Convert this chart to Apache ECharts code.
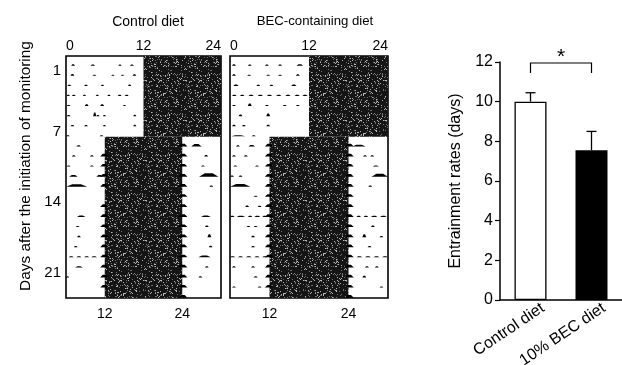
<!DOCTYPE html>
<html>
<head>
<meta charset="utf-8">
<script src="https://cdn.jsdelivr.net/npm/echarts@6/dist/echarts.min.js"></script>
<style>
  html, body { margin: 0; padding: 0; background: #fff; }
  #chart { width: 622px; height: 365px; }
</style>
</head>
<body>
<div id="chart"></div>
<script>
// actogram rows (day index, top to bottom)
const rows = ['0','1','2','3','4','5','6','7','8','9','10','11','12','13','14','15','16','17','18','19','20','21','22','23'];
const dayTicks = [1, 7, 14, 21];
const topTicks = [0, 12, 24];
const bottomTicks = [12, 24];

// dark phase blocks: [startHour, endHour, firstRow, lastRow]
const controlDark = [[12, 24, 0, 7], [6, 18, 8, 23]];
const becDark = [[12, 24, 0, 7], [6, 18, 8, 23]];

// activity marks: [startHour, endHour, row, height (part of row)]
const controlMarks = [
  [0.8,1.4,0,0.25],[3.8,4.5,0,0.2],[8.1,8.6,0,0.2],[9.9,10.5,0,0.2],
  [0.7,1.3,1,0.3],[4.1,4.7,1,0.2],[7.0,7.5,1,0.2],[8.5,9.0,1,0.2],[10.3,10.9,1,0.25],
  [0.2,0.8,2,0.2],[2.8,3.4,2,0.2],[5.4,5.9,2,0.2],[9.6,10.1,2,0.25],
  [0.1,0.6,3,0.15],[0.9,1.5,3,0.15],[2.6,3.1,3,0.15],[4.6,5.1,3,0.15],[6.4,6.9,3,0.15],[8.0,8.6,3,0.15],[9.1,9.7,3,0.15],
  [0.1,0.7,4,0.2],[2.9,3.5,4,0.3],[5.3,5.9,4,0.3],[8.8,9.3,4,0.2],
  [0.1,0.7,5,0.2],[4.2,4.7,5,0.6],[4.7,5.2,5,0.2],[5.7,6.2,5,0.2],[10.4,10.9,5,0.25],
  [0.7,1.3,6,0.2],[2.8,3.4,6,0.2],[5.7,6.2,6,0.2],[10.4,10.9,6,0.25],
  [0.0,0.6,7,0.2],[5.2,5.8,7,0.2],
  [1.6,2.3,8,0.2],[19.4,21.0,8,0.4],
  [0.9,1.5,9,0.2],[3.7,4.3,9,0.2],[21.4,22.0,9,0.25],
  [0.1,0.7,10,0.2],[3.7,4.3,10,0.2],[20.9,21.5,10,0.2],
  [0.5,1.8,11,0.3],[4.7,5.7,11,0.3],[20.6,23.6,11,0.55],
  [0.0,3.3,12,0.4],[22.2,22.8,12,0.2],
  [1.7,3.0,15,0.25],[20.9,22.4,15,0.25],
  [1.5,2.1,16,0.2],[21.5,22.1,16,0.25],
  [1.7,2.3,17,0.25],[21.9,22.5,17,0.5],
  [1.2,1.8,18,0.2],[22.1,22.7,18,0.25],
  [0.4,1.2,19,0.15],[1.6,2.4,19,0.15],[2.8,3.6,19,0.15],[3.9,4.8,19,0.15],[20.5,22.4,19,0.3],
  [1.4,2.6,20,0.2],[21.5,22.1,20,0.2],
  [0.0,0.5,21,0.2],[20.5,21.1,21,0.2]
];
const becMarks = [
  [0.3,0.9,0,0.25],[2.7,3.3,0,0.2],[5.3,5.9,0,0.2],[7.3,7.9,0,0.2],[10.1,11.1,0,0.25],
  [0.3,0.9,1,0.25],[2.6,3.2,1,0.2],[5.5,6.1,1,0.2],[7.3,7.9,1,0.2],[10.0,10.6,1,0.25],
  [0.5,1.3,2,0.25],[4.0,4.6,2,0.2],[6.0,6.6,2,0.2],[9.3,10.1,2,0.25],
  [0.3,1.0,3,0.12],[1.5,2.2,3,0.12],[2.8,3.6,3,0.12],[4.2,5.0,3,0.12],[5.6,6.4,3,0.12],[7.0,7.8,3,0.12],[8.4,9.2,3,0.12],[9.8,10.6,3,0.12],[11.0,11.8,3,0.12],
  [0.3,0.9,4,0.2],[2.7,3.3,4,0.45],[5.3,5.9,4,0.2],[8.0,8.6,4,0.2],[10.0,10.6,4,0.2],
  [1.3,1.9,5,0.3],[5.5,6.1,5,0.45],
  [0.3,0.9,6,0.25],[1.8,2.4,6,0.2],[5.5,6.1,6,0.25],
  [0.2,2.3,7,0.15],[3.3,3.9,7,0.2],
  [0.9,1.5,8,0.2],[2.8,3.8,8,0.25],[18.6,20.6,8,0.3],
  [0.3,0.9,9,0.2],[2.1,2.7,9,0.2],[20.2,20.8,9,0.2],[21.3,21.9,9,0.2],
  [0.5,1.1,10,0.2],[3.8,4.4,10,0.2],[21.7,22.6,10,0.2],
  [0.0,0.6,11,0.2],[1.3,1.9,11,0.2],[21.5,24.0,11,0.5],
  [0.0,3.1,12,0.45],[21.0,21.6,12,0.2],
  [3.6,4.2,13,0.2],
  [2.3,2.9,14,0.25],[4.2,4.8,14,0.2],
  [0.0,0.7,15,0.12],[1.0,2.3,15,0.15],[2.7,3.4,15,0.12],[3.7,4.6,15,0.15],[4.9,5.6,15,0.12],[19.2,19.9,15,0.12],[20.3,21.0,15,0.12],[21.4,22.4,15,0.15],[22.8,23.8,15,0.12],
  [2.5,3.1,16,0.2],[3.6,4.2,16,0.2],[21.4,22.0,16,0.25],
  [3.2,3.8,17,0.25],[20.1,20.7,17,0.5],[22.7,23.3,17,0.2],
  [3.2,3.8,18,0.2],[20.9,21.5,18,0.2],
  [0.0,0.8,19,0.15],[1.2,2.0,19,0.15],[2.4,3.3,19,0.15],[3.7,4.5,19,0.15],[4.9,5.6,19,0.15],[19.2,20.1,19,0.15],[20.5,21.4,19,0.15],[21.8,22.7,19,0.15],[23.1,24.0,19,0.15],
  [0.3,0.9,20,0.2],[3.2,3.8,20,0.2],[20.5,21.1,20,0.2],[22.0,22.6,20,0.2],
  [3.6,4.2,21,0.2],[20.1,20.7,21,0.3],
  [0.3,0.9,22,0.2],[4.2,4.8,22,0.2],[22.7,23.3,22,0.2]
];
// rows with activity spikes at the dark edges (lights-off / lights-on)
const controlOnsetRows = [9, 10, 11, 12, 14, 15, 16, 17, 18, 19, 20, 21, 22];
const controlOffsetRows = [8, 9, 10, 11, 12, 13, 14, 15, 16, 17, 18, 19, 20, 21, 22, 23];
const becOnsetRows = [8, 9, 10, 11, 12, 13, 14, 15, 16, 17, 18, 19, 20, 21, 22];
const becOffsetRows = [8, 9, 10, 11, 12, 13, 14, 15, 16, 17, 18, 19, 20, 21, 22, 23];

// bar chart
const dietCats = ['Control diet', '10% BEC diet'];
const entrainMeans = [10.0, 7.55];
const entrainUpper = [10.45, 8.5];
const sigPair = [0, 1];

var chart = echarts.init(document.getElementById('chart'));

// speckled texture for the dark phase (fixed hash, just a look)
const tex = document.createElement('canvas');
tex.width = 40; tex.height = 40;
const g = tex.getContext('2d');
g.fillStyle = '#151515';
g.fillRect(0, 0, 40, 40);
for (let i = 0; i < 40; i++) {
  for (let j = 0; j < 40; j++) {
    let h = (Math.imul(i, 374761393) + Math.imul(j, 668265263)) >>> 0;
    h = Math.imul(h ^ (h >>> 13), 1274126177) >>> 0;
    const k = (h >>> 16) % 100;
    if (k < 14) { g.fillStyle = k < 6 ? '#b8b8b8' : '#707070'; g.fillRect(i, j, 1, 1); }
  }
}
const stipple = { image: tex, repeat: 'repeat' };
const markScale = 0.6;

function renderBlock(params, api) {
  const rowH = api.size([0, 1])[1];
  const p0 = api.coord([api.value(0), api.value(2)]);
  const p1 = api.coord([api.value(1), api.value(3)]);
  return {
    type: 'rect',
    shape: { x: p0[0], y: p0[1] - rowH / 2, width: p1[0] - p0[0], height: p1[1] - p0[1] + rowH },
    style: { fill: stipple }
  };
}

function renderMark(params, api) {
  const rowH = api.size([0, 1])[1];
  const a = api.coord([api.value(0), api.value(2)]);
  const b = api.coord([api.value(1), api.value(2)]);
  const base = a[1] + rowH / 2 - 0.3;
  const peak = base - Math.max(api.value(3) * rowH * markScale, 1.2);
  const w = b[0] - a[0];
  return {
    type: 'polygon',
    shape: { points: [[a[0], base], [a[0] + w * 0.3, peak], [b[0] - w * 0.3, peak], [b[0], base]] },
    style: { fill: '#000' }
  };
}

function withEdges(marks, onRows, offRows) {
  return marks
    .concat(onRows.map(r => [5.3, 6.6, r, 0.45]))
    .concat(offRows.map(r => [17.4, 18.8, r, 0.45]));
}

const font = 'Liberation Sans';

function topAxis(gi) {
  return {
    gridIndex: gi, type: 'value', position: 'top', min: 0, max: 24, interval: 12,
    axisLine: { show: false }, axisTick: { show: false }, splitLine: { show: false },
    axisLabel: {
      fontSize: 14, color: '#000', margin: 3, alignMinLabel: 'left', alignMaxLabel: 'right',
      formatter: v => topTicks.includes(v) ? String(v) : ''
    }
  };
}
function bottomAxis(gi) {
  return {
    gridIndex: gi, type: 'value', position: 'bottom', min: 6, max: 30, interval: 6,
    axisLine: { show: false }, axisTick: { show: false }, splitLine: { show: false },
    axisLabel: { fontSize: 14, color: '#000', margin: 9, formatter: v => bottomTicks.includes(v) ? String(v) : '' }
  };
}
function dayAxis(gi, showLabels) {
  return {
    gridIndex: gi, type: 'category', data: rows, inverse: true,
    axisLine: { show: false }, axisTick: { show: false }, splitLine: { show: false },
    axisLabel: { show: showLabels, fontSize: 15, color: '#000', margin: 5, interval: (i, v) => dayTicks.includes(+v) }
  };
}

const gridBox = { show: true, borderColor: '#000', borderWidth: 1.6, backgroundColor: '#fff', outerBoundsMode: 'none', containLabel: false };

var option = {
  backgroundColor: '#fff',
  animation: false,
  textStyle: { fontFamily: font, color: '#000' },
  title: [
    { text: 'Control diet', left: 143, top: 10, textAlign: 'center', textStyle: { fontSize: 14, fontWeight: 'normal', color: '#000', fontFamily: font } },
    { text: 'BEC-containing diet', left: 310, top: 10, textAlign: 'center', textStyle: { fontSize: 13.2, fontWeight: 'normal', color: '#000', fontFamily: font } }
  ],
  graphic: [{
    type: 'text', x: 26, y: 166, rotation: Math.PI / 2,
    style: { text: 'Days after the initiation of monitoring', align: 'center', verticalAlign: 'middle', font: '15.4px "Liberation Sans"', fill: '#000' }
  }],
  grid: [
    Object.assign({ left: 66, top: 56, width: 155, height: 242 }, gridBox),
    Object.assign({ left: 230, top: 56, width: 158, height: 242 }, gridBox),
    { left: 500, top: 62, right: 0, bottom: 65, outerBoundsMode: 'none', containLabel: false }
  ],
  xAxis: [
    topAxis(0), bottomAxis(0), topAxis(1), bottomAxis(1),
    {
      gridIndex: 2, type: 'category', data: dietCats,
      axisLine: { lineStyle: { color: '#000', width: 1.5 } },
      axisTick: { length: 4, lineStyle: { color: '#000', width: 1.2 } },
      axisLabel: { rotate: 34, fontSize: 16, color: '#000', margin: 15, padding: [0, -15, 0, 0], interval: 0 }
    }
  ],
  yAxis: [
    dayAxis(0, true), dayAxis(1, false),
    {
      gridIndex: 2, type: 'value', min: 0, max: 12, interval: 2,
      axisLine: { show: true, lineStyle: { color: '#000', width: 1.5 } },
      axisTick: { show: true, length: 5, lineStyle: { color: '#000', width: 1.2 } },
      splitLine: { show: false },
      axisLabel: { fontSize: 16, color: '#000', margin: 7 },
      name: 'Entrainment rates (days)', nameLocation: 'middle', nameGap: 36,
      nameTextStyle: { fontSize: 16, color: '#000' }
    }
  ],
  series: [
    { type: 'custom', xAxisIndex: 0, yAxisIndex: 0, renderItem: renderBlock, encode: { x: [0, 1], y: [2, 3] }, data: controlDark, silent: true },
    { type: 'custom', xAxisIndex: 0, yAxisIndex: 0, renderItem: renderMark, encode: { x: [0, 1], y: 2 }, data: withEdges(controlMarks, controlOnsetRows, controlOffsetRows), silent: true },
    { type: 'custom', xAxisIndex: 2, yAxisIndex: 1, renderItem: renderBlock, encode: { x: [0, 1], y: [2, 3] }, data: becDark, silent: true },
    { type: 'custom', xAxisIndex: 2, yAxisIndex: 1, renderItem: renderMark, encode: { x: [0, 1], y: 2 }, data: withEdges(becMarks, becOnsetRows, becOffsetRows), silent: true },
    {
      type: 'bar', xAxisIndex: 4, yAxisIndex: 2, barWidth: 32,
      data: entrainMeans.map((v, i) => ({
        value: v,
        itemStyle: i === 0 ? { color: '#fff', borderColor: '#000', borderWidth: 1.3 } : { color: '#000' }
      }))
    },
    {
      type: 'custom', xAxisIndex: 4, yAxisIndex: 2, clip: false,
      data: entrainMeans.map((v, i) => [i, v, entrainUpper[i]]),
      encode: { x: 0, y: [1, 2] },
      renderItem: function (params, api) {
        const lo = api.coord([api.value(0), api.value(1)]);
        const hi = api.coord([api.value(0), api.value(2)]);
        const st = { stroke: '#000', lineWidth: 1.3 };
        return {
          type: 'group', children: [
            { type: 'line', shape: { x1: lo[0], y1: lo[1], x2: hi[0], y2: hi[1] }, style: st },
            { type: 'line', shape: { x1: hi[0] - 5, y1: hi[1], x2: hi[0] + 5, y2: hi[1] }, style: st }
          ]
        };
      }
    },
    {
      type: 'custom', xAxisIndex: 4, yAxisIndex: 2, clip: false,
      data: [[sigPair[0], sigPair[1], 11.45, 11.95]],
      encode: { x: [0, 1], y: [2, 3] },
      renderItem: function (params, api) {
        const a0 = api.coord([api.value(0), api.value(2)]);
        const a1 = api.coord([api.value(0), api.value(3)]);
        const b1 = api.coord([api.value(1), api.value(3)]);
        const b0 = api.coord([api.value(1), api.value(2)]);
        return {
          type: 'group', children: [
            { type: 'polyline', shape: { points: [a0, a1, b1, b0] }, style: { stroke: '#000', lineWidth: 1.2, fill: null } },
            { type: 'text', x: (a1[0] + b1[0]) / 2, y: a1[1] + 5,
              style: { text: '*', align: 'center', verticalAlign: 'bottom', font: '21px "Liberation Sans"', fill: '#000' } }
          ]
        };
      }
    }
  ]
};

chart.setOption(option);
</script>
</body>
</html>
